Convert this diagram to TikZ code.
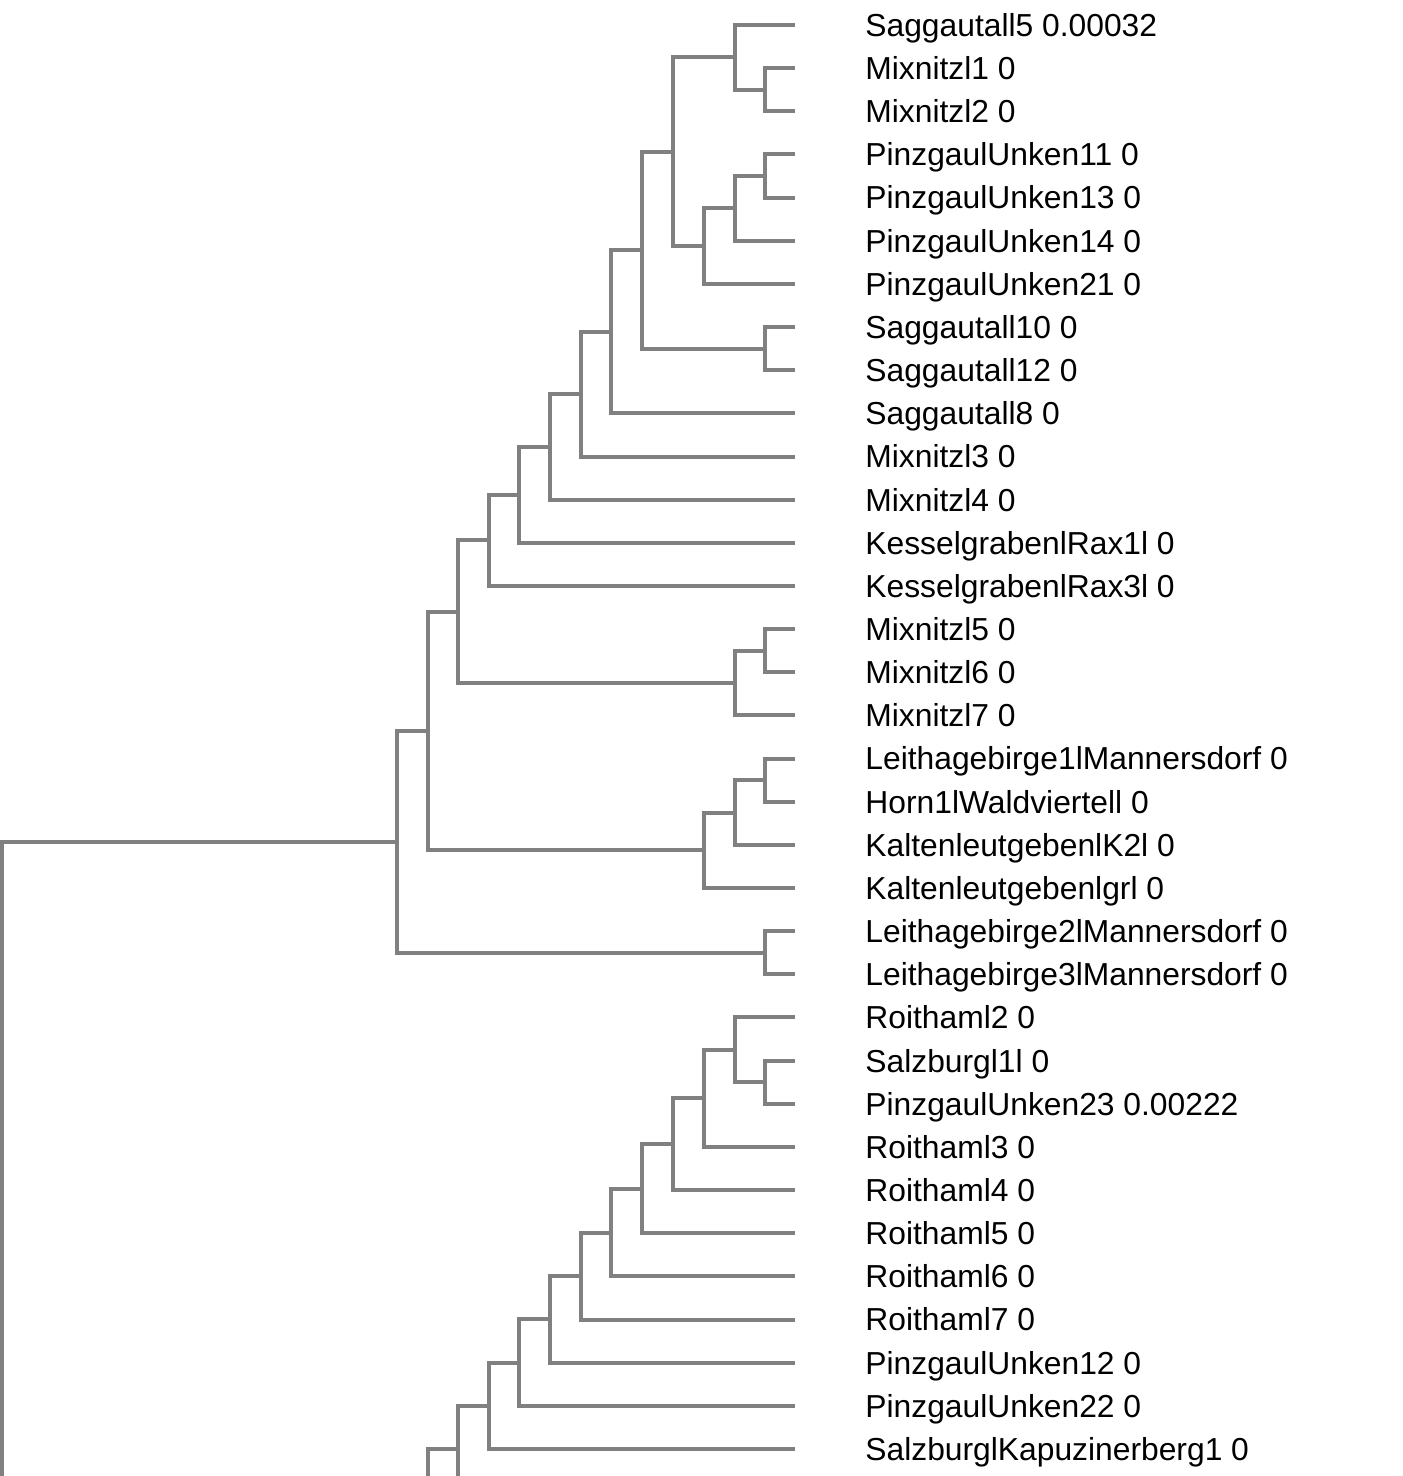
\documentclass[tikz,border=0pt]{standalone}
\usepackage{fontspec}
\setmainfont{Liberation Sans}
\definecolor{branchgray}{RGB}{128,128,128}

\begin{document}
\begin{tikzpicture}[x=0.5pt, y=-0.5pt,
	branch/.style={line width=2pt, color=branchgray},
	taxon/.style={anchor=west, inner sep=0pt, text height=11.4pt, text depth=0pt, font=\fontsize{15.9}{19}\selectfont}]
			%%%%% START %%%%%
			\useasboundingbox (0, 0) rectangle (1402, 1476);
			\clip (0, 0) rectangle (1402, 1476);
			
			% tips and taxa
			\coordinate (t0) at (795, 25);       \node[taxon] (s0) at (865, 25) {Saggautall5 0.00032};
			\coordinate (t1) at (795, 68.15);    \node[taxon] (s1) at (865, 68.15) {Mixnitzl1 0};
			\coordinate (t2) at (795, 111.3);    \node[taxon] (s2) at (865, 111.3) {Mixnitzl2 0};
			\coordinate (t3) at (795, 154.45);   \node[taxon] (s3) at (865, 154.45) {PinzgaulUnken11 0};
			\coordinate (t4) at (795, 197.6);    \node[taxon] (s4) at (865, 197.6) {PinzgaulUnken13 0};
			\coordinate (t5) at (795, 240.75);   \node[taxon] (s5) at (865, 240.75) {PinzgaulUnken14 0};
			\coordinate (t6) at (795, 283.9);    \node[taxon] (s6) at (865, 283.9) {PinzgaulUnken21 0};
			\coordinate (t7) at (795, 327.05);   \node[taxon] (s7) at (865, 327.05) {Saggautall10 0};
			\coordinate (t8) at (795, 370.2);    \node[taxon] (s8) at (865, 370.2) {Saggautall12 0};
			\coordinate (t9) at (795, 413.35);   \node[taxon] (s9) at (865, 413.35) {Saggautall8 0};
			\coordinate (t10) at (795, 456.5);   \node[taxon] (s10) at (865, 456.5) {Mixnitzl3 0};
			\coordinate (t11) at (795, 499.65);  \node[taxon] (s11) at (865, 499.65) {Mixnitzl4 0};
			\coordinate (t12) at (795, 542.8);   \node[taxon] (s12) at (865, 542.8) {KesselgrabenlRax1l 0};
			\coordinate (t13) at (795, 585.95);  \node[taxon] (s13) at (865, 585.95) {KesselgrabenlRax3l 0};
			\coordinate (t14) at (795, 629.1);   \node[taxon] (s14) at (865, 629.1) {Mixnitzl5 0};
			\coordinate (t15) at (795, 672.25);  \node[taxon] (s15) at (865, 672.25) {Mixnitzl6 0};
			\coordinate (t16) at (795, 715.4);   \node[taxon] (s16) at (865, 715.4) {Mixnitzl7 0};
			\coordinate (t17) at (795, 758.55);  \node[taxon] (s17) at (865, 758.55) {Leithagebirge1lMannersdorf 0};
			\coordinate (t18) at (795, 801.7);   \node[taxon] (s18) at (865, 801.7) {Horn1lWaldviertell 0};
			\coordinate (t19) at (795, 844.85);  \node[taxon] (s19) at (865, 844.85) {KaltenleutgebenlK2l 0};
			\coordinate (t20) at (795, 888);     \node[taxon] (s20) at (865, 888) {Kaltenleutgebenlgrl 0};
			\coordinate (t21) at (795, 931.15);  \node[taxon] (s21) at (865, 931.15) {Leithagebirge2lMannersdorf 0};
			\coordinate (t22) at (795, 974.3);   \node[taxon] (s22) at (865, 974.3) {Leithagebirge3lMannersdorf 0};
			\coordinate (t23) at (795, 1017.45); \node[taxon] (s23) at (865, 1017.45) {Roithaml2 0};
			\coordinate (t24) at (795, 1060.6);  \node[taxon] (s24) at (865, 1060.6) {Salzburgl1l 0};
			\coordinate (t25) at (795, 1103.75); \node[taxon] (s25) at (865, 1103.75) {PinzgaulUnken23 0.00222};
			\coordinate (t26) at (795, 1146.9);  \node[taxon] (s26) at (865, 1146.9) {Roithaml3 0};
			\coordinate (t27) at (795, 1190.05); \node[taxon] (s27) at (865, 1190.05) {Roithaml4 0};
			\coordinate (t28) at (795, 1233.2);  \node[taxon] (s28) at (865, 1233.2) {Roithaml5 0};
			\coordinate (t29) at (795, 1276.35); \node[taxon] (s29) at (865, 1276.35) {Roithaml6 0};
			\coordinate (t30) at (795, 1319.5);  \node[taxon] (s30) at (865, 1319.5) {Roithaml7 0};
			\coordinate (t31) at (795, 1362.65); \node[taxon] (s31) at (865, 1362.65) {PinzgaulUnken12 0};
			\coordinate (t32) at (795, 1405.8);  \node[taxon] (s32) at (865, 1405.8) {PinzgaulUnken22 0};
			\coordinate (t33) at (795, 1448.95); \node[taxon] (s33) at (865, 1448.95) {SalzburglKapuzinerberg1 0};
			
			% upper clade
			\coordinate (a1) at (765, 89.7);
			\coordinate (a2) at (735, 57.4);
			\coordinate (b1) at (765, 176);
			\coordinate (b2) at (735, 208.4);
			\coordinate (b3) at (704, 246.1);
			\coordinate (c1) at (673, 151.8);
			\coordinate (c2) at (765, 348.6);
			\coordinate (c3) at (642, 250.2);
			\coordinate (c4) at (611, 331.8);
			\coordinate (c5) at (581, 394.1);
			\coordinate (c6) at (550, 446.9);
			\coordinate (c7) at (519, 494.8);
			\coordinate (c8) at (489, 540.4);
			\coordinate (d1) at (765, 650.7);
			\coordinate (d2) at (735, 683);
			\coordinate (e1) at (458, 611.7);
			\coordinate (f1) at (765, 780.1);
			\coordinate (f2) at (735, 812.5);
			\coordinate (f3) at (704, 850.2);
			\coordinate (g1) at (428, 731);
			\coordinate (h1) at (765, 952.7);
			\coordinate (g2) at (397, 841.9);
			
			\draw[branch] (a1) |- (t1) (a1) |- (t2);
			\draw[branch] (a2) |- (t0) (a2) |- (a1);
			\draw[branch] (b1) |- (t3) (b1) |- (t4);
			\draw[branch] (b2) |- (b1) (b2) |- (t5);
			\draw[branch] (b3) |- (b2) (b3) |- (t6);
			\draw[branch] (c1) |- (a2) (c1) |- (b3);
			\draw[branch] (c2) |- (t7) (c2) |- (t8);
			\draw[branch] (c3) |- (c1) (c3) |- (c2);
			\draw[branch] (c4) |- (c3) (c4) |- (t9);
			\draw[branch] (c5) |- (c4) (c5) |- (t10);
			\draw[branch] (c6) |- (c5) (c6) |- (t11);
			\draw[branch] (c7) |- (c6) (c7) |- (t12);
			\draw[branch] (c8) |- (c7) (c8) |- (t13);
			\draw[branch] (d1) |- (t14) (d1) |- (t15);
			\draw[branch] (d2) |- (d1) (d2) |- (t16);
			\draw[branch] (e1) |- (c8) (e1) |- (d2);
			\draw[branch] (f1) |- (t17) (f1) |- (t18);
			\draw[branch] (f2) |- (f1) (f2) |- (t19);
			\draw[branch] (f3) |- (f2) (f3) |- (t20);
			\draw[branch] (g1) |- (e1) (g1) |- (f3);
			\draw[branch] (h1) |- (t21) (h1) |- (t22);
			\draw[branch] (g2) |- (g1) (g2) |- (h1);
			
			% lower clade, runs off the bottom
			\coordinate (k1) at (765, 1082.2);
			\coordinate (k2) at (735, 1049.8);
			\coordinate (k3) at (704, 1098.4);
			\coordinate (k4) at (673, 1144.2);
			\coordinate (k5) at (642, 1188.7);
			\coordinate (k6) at (611, 1232.5);
			\coordinate (k7) at (581, 1276);
			\coordinate (k8) at (550, 1319.3);
			\coordinate (k9) at (519, 1362.6);
			\coordinate (k10) at (489, 1405.8);
			\coordinate (k11) at (458, 1449);
			\coordinate (k11b) at (458, 1500);
			\coordinate (k12) at (428, 1500);
			\coordinate (root) at (1.5, 1500);
			
			\draw[branch] (k1) |- (t24) (k1) |- (t25);
			\draw[branch] (k2) |- (t23) (k2) |- (k1);
			\draw[branch] (k3) |- (k2) (k3) |- (t26);
			\draw[branch] (k4) |- (k3) (k4) |- (t27);
			\draw[branch] (k5) |- (k4) (k5) |- (t28);
			\draw[branch] (k6) |- (k5) (k6) |- (t29);
			\draw[branch] (k7) |- (k6) (k7) |- (t30);
			\draw[branch] (k8) |- (k7) (k8) |- (t31);
			\draw[branch] (k9) |- (k8) (k9) |- (t32);
			\draw[branch] (k10) |- (k9) (k10) |- (t33);
			\draw[branch] (k11b) |- (k10);
			\draw[branch] (k12) |- (k11);
			
			\draw[branch] (root) |- (g2);
			
			%%%%% END %%%%%
\end{tikzpicture}
\end{document}
